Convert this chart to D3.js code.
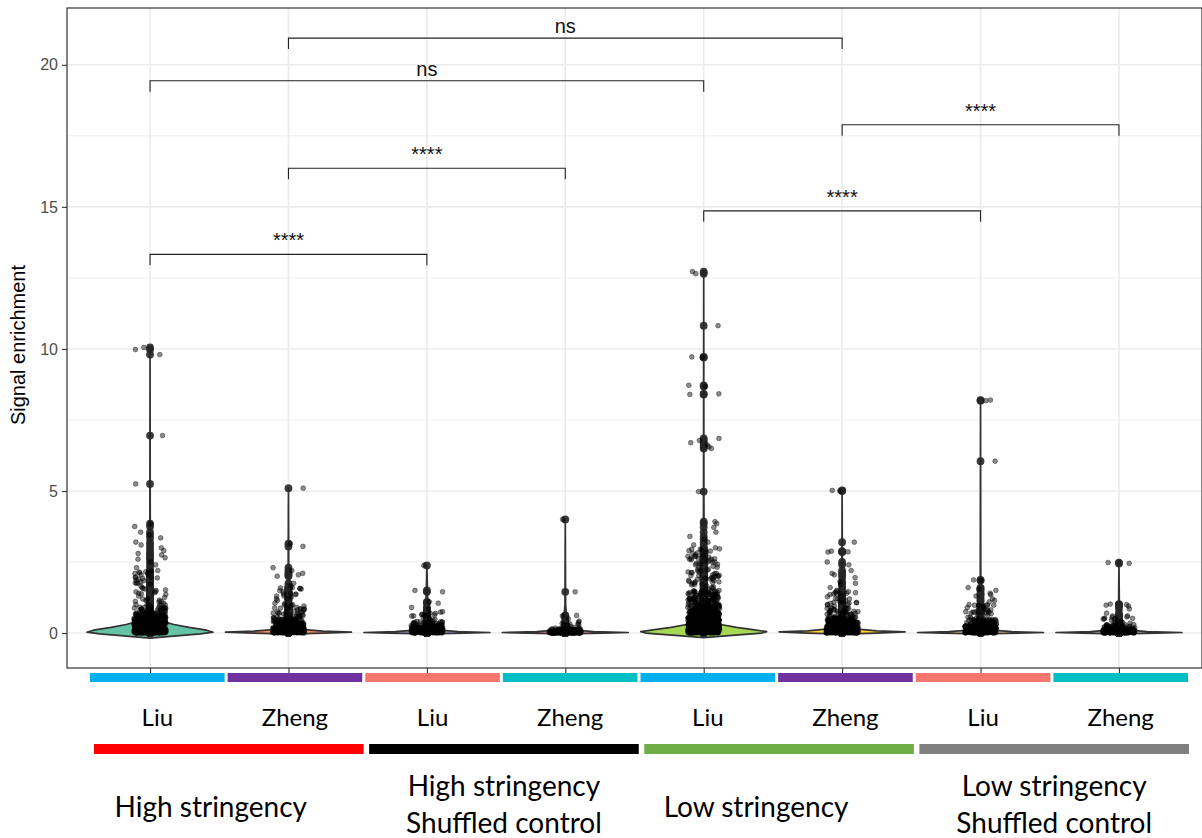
<!DOCTYPE html>
<html>
<head>
<meta charset="utf-8">
<script src="https://cdn.jsdelivr.net/npm/d3@7"></script>
<style>
  body { margin: 0; background: #fff; }
  svg { display: block; }
</style>
</head>
<body>
<svg id="chart" width="1202" height="838"></svg>
<script>
// ---- categories and labels ----
const categories = ["hsLiu", "hsZheng", "hscLiu", "hscZheng", "lsLiu", "lsZheng", "lscLiu", "lscZheng"];
const datasetLabels = ["Liu", "Zheng", "Liu", "Zheng", "Liu", "Zheng", "Liu", "Zheng"];
const conditions = ["hs", "hsc", "ls", "lsc"];
const conditionLabels = [
  ["High stringency"],
  ["High stringency", "Shuffled control"],
  ["Low stringency"],
  ["Low stringency", "Shuffled control"]
];
const yTicks = [0, 5, 10, 15, 20];
const yMinorTicks = [2.5, 7.5, 12.5, 17.5];

// ---- signal enrichment: individually visible values (upper tail) ----
const hsLiuTail = [10.05, 9.98, 9.8, 6.95, 5.25, 3.85, 3.75, 3.55, 3.45, 3.35, 3.2, 3.1, 3.0, 2.9, 2.8, 2.75,
  2.65, 2.6, 2.5, 2.4, 2.3, 2.2, 2.12, 2.1, 2.05, 1.95, 1.9, 1.8, 1.72, 1.65, 1.6, 1.55, 1.52, 1.5, 1.45,
  1.4, 1.36, 1.3, 1.25, 1.2, 1.15, 1.1, 1.05, 1.0];
const hsZhengTail = [5.1, 3.15, 3.05, 2.3, 2.2, 2.1, 2.05, 2.0, 1.75, 1.65, 1.6, 1.55, 1.45, 1.4, 1.3, 1.2,
  1.15, 1.05, 1.0, 0.95, 0.9];
const hscLiuTail = [2.38, 1.5, 1.45, 1.1, 1.05, 0.9, 0.85, 0.75, 0.7, 0.65, 0.6, 0.55, 0.5, 0.45];
const hscZhengTail = [4.0, 1.45, 0.62, 0.6, 0.5, 0.42, 0.38, 0.3];
const lsLiuTail = [12.72, 12.65, 10.82, 9.72, 9.7, 8.72, 8.68, 8.42, 8.4, 6.85, 6.78, 6.7, 6.62, 6.55, 6.5,
  4.98, 3.92, 3.85, 3.72, 3.55, 3.4, 3.3, 3.2, 3.1, 3.0, 2.95, 2.9, 2.85, 2.75, 2.7, 2.6, 2.55, 2.5, 2.45,
  2.4, 2.35, 2.3, 2.25, 2.2, 2.15, 2.1, 2.05, 2.0, 1.95, 1.9, 1.85, 1.8, 1.75, 1.7, 1.65, 1.6, 1.55, 1.5];
const lsZhengTail = [5.02, 5.0, 3.2, 2.88, 2.86, 2.85, 2.5, 2.4, 2.2, 2.1, 2.05, 1.95, 1.8, 1.75, 1.7, 1.6,
  1.5, 1.4, 1.3, 1.2, 1.15, 1.1, 1.0, 0.95, 0.9];
const lscLiuTail = [8.2, 8.18, 6.05, 1.87, 1.85, 1.6, 1.55, 1.5, 1.4, 1.35, 1.3, 1.2, 1.15, 1.1, 1.0, 0.98,
  0.9, 0.85, 0.8, 0.75, 0.7, 0.65];
const lscZhengTail = [2.48, 2.45, 1.02, 1.0, 0.98, 0.95, 0.85, 0.7, 0.6, 0.55, 0.5, 0.45, 0.4];

// ---- dense part near zero, as [binLow, binHigh, count] ----
const hsLiuBulk = [[1.0, 2.2, 24], [0.7, 1.0, 40], [0.4, 0.7, 90], [0.15, 0.4, 180], [0, 0.15, 320]];
const hsZhengBulk = [[0.9, 1.6, 14], [0.5, 0.9, 35], [0.2, 0.5, 90], [0, 0.2, 280]];
const hscLiuBulk = [[0.4, 0.8, 12], [0.2, 0.4, 45], [0, 0.2, 220]];
const hscZhengBulk = [[0.15, 0.4, 10], [0.05, 0.15, 50], [0, 0.05, 150]];
const lsLiuBulk = [[1.5, 3.0, 50], [1.0, 1.5, 80], [0.6, 1.0, 140], [0.3, 0.6, 220], [0, 0.3, 420]];
const lsZhengBulk = [[0.9, 1.5, 20], [0.5, 0.9, 50], [0.2, 0.5, 110], [0, 0.2, 280]];
const lscLiuBulk = [[0.5, 1.0, 20], [0.25, 0.5, 60], [0, 0.25, 260]];
const lscZhengBulk = [[0.3, 0.6, 12], [0.12, 0.3, 40], [0, 0.12, 200]];

// ---- violin profiles: [value, relative density] ----
const hsLiuProfile = [[-0.18, 0], [-0.1, 0.42], [-0.03, 0.8], [0.03, 1], [0.1, 0.9], [0.2, 0.62], [0.3, 0.38],
  [0.42, 0.18], [0.6, 0.08], [0.9, 0.035], [1.5, 0.015], [2.5, 0.007], [4, 0.003], [10.05, 0]];
const hsZhengProfile = [[-0.04, 0], [0, 0.55], [0.03, 1], [0.07, 0.55], [0.12, 0.25], [0.2, 0.1], [0.4, 0.04],
  [0.8, 0.015], [2, 0.005], [5.1, 0]];
const hscLiuProfile = [[-0.03, 0], [0, 0.6], [0.02, 1], [0.05, 0.5], [0.1, 0.2], [0.2, 0.06], [0.5, 0.02], [2.38, 0]];
const hscZhengProfile = [[-0.03, 0], [0, 0.6], [0.02, 1], [0.05, 0.45], [0.1, 0.15], [0.3, 0.03], [1, 0.005], [4.0, 0]];
const lsLiuProfile = [[-0.16, 0], [-0.08, 0.45], [0, 0.92], [0.05, 1], [0.12, 0.78], [0.2, 0.52], [0.3, 0.27],
  [0.45, 0.11], [0.7, 0.045], [1.2, 0.02], [2.5, 0.008], [5, 0.003], [12.72, 0]];
const lsZhengProfile = [[-0.04, 0], [0, 0.55], [0.04, 1], [0.08, 0.55], [0.14, 0.25], [0.25, 0.09], [0.5, 0.03],
  [1, 0.012], [2.5, 0.004], [5.02, 0]];
const lscLiuProfile = [[-0.03, 0], [0, 0.6], [0.02, 1], [0.05, 0.5], [0.1, 0.18], [0.25, 0.05], [0.6, 0.015],
  [2, 0.004], [8.2, 0]];
const lscZhengProfile = [[-0.03, 0], [0, 0.6], [0.02, 1], [0.05, 0.45], [0.1, 0.15], [0.3, 0.03], [1, 0.006], [2.48, 0]];

// ---- pairwise comparisons: [groupA, groupB, bracket height, label] ----
const comparisons = [
  ["hsLiu", "hscLiu", 13.33, "****"],
  ["hsZheng", "hscZheng", 16.36, "****"],
  ["hsLiu", "lsLiu", 19.44, "ns"],
  ["hsZheng", "lsZheng", 20.94, "ns"],
  ["lsLiu", "lscLiu", 14.86, "****"],
  ["lsZheng", "lscZheng", 17.89, "****"]
];

// ---- colours ----
const violinFills = ["#66C2A5", "#FC8D62", "#8DA0CB", "#E78AC3", "#A6D854", "#FFD92F", "#E5C494", "#B3B3B3"];
const datasetColors = ["#00B0F0", "#7030A0", "#F8766D", "#00BFC4", "#00B0F0", "#7030A0", "#F8766D", "#00BFC4"];
const conditionColors = ["#FF0000", "#000000", "#70AD47", "#808080"];

const tails = [hsLiuTail, hsZhengTail, hscLiuTail, hscZhengTail, lsLiuTail, lsZhengTail, lscLiuTail, lscZhengTail];
const bulks = [hsLiuBulk, hsZhengBulk, hscLiuBulk, hscZhengBulk, lsLiuBulk, lsZhengBulk, lscLiuBulk, lscZhengBulk];
const profiles = [hsLiuProfile, hsZhengProfile, hscLiuProfile, hscZhengProfile, lsLiuProfile, lsZhengProfile, lscLiuProfile, lscZhengProfile];

const groups = categories.map((key, i) => ({
  key, tail: tails[i], bulk: bulks[i], profile: profiles[i], fill: violinFills[i]
}));

// ---- layout ----
const panel = { left: 67, top: 8, right: 1202, bottom: 668 };
const svg = d3.select("#chart");
const sansFont = "'Liberation Sans', Arial, sans-serif";
const labelFont = "Lato, 'Open Sans', sans-serif";

const x = d3.scalePoint().domain(categories).range([panel.left, panel.right]).padding(0.6);
const y = d3.scaleLinear().domain([-1.23, 22.0]).range([panel.bottom, panel.top]);
const step = x.step();
const violinHalf = step * 0.455;
const jitterHalf = step * 0.115;

// grid
const grid = svg.append("g");
grid.selectAll("line.minor").data(yMinorTicks).join("line")
  .attr("x1", panel.left).attr("x2", panel.right)
  .attr("y1", d => y(d)).attr("y2", d => y(d))
  .attr("stroke", "#ebebeb").attr("stroke-width", 0.8);
grid.selectAll("line.majorY").data(yTicks).join("line")
  .attr("x1", panel.left).attr("x2", panel.right)
  .attr("y1", d => y(d)).attr("y2", d => y(d))
  .attr("stroke", "#ebebeb").attr("stroke-width", 1.6);
grid.selectAll("line.majorX").data(categories).join("line")
  .attr("x1", d => x(d)).attr("x2", d => x(d))
  .attr("y1", panel.top).attr("y2", panel.bottom)
  .attr("stroke", "#ebebeb").attr("stroke-width", 1.6);

// violins
const vg = svg.append("g");
groups.forEach(g => {
  const cx = x(g.key);
  const area = d3.area()
    .y(d => y(d[0]))
    .x0(d => cx - d[1] * violinHalf)
    .x1(d => cx + d[1] * violinHalf)
    .curve(d3.curveLinear);
  vg.append("path").datum(g.profile)
    .attr("d", area)
    .attr("fill", g.fill)
    .attr("stroke", "#333")
    .attr("stroke-width", 1.7)
    .attr("stroke-linejoin", "round");
});

// points: each observation is shown at the centre line and once more jittered
const rng = d3.randomLcg(0.2718);
const jit = d3.randomUniform.source(rng)(-1, 1);
const unit = d3.randomUniform.source(rng)(0, 1);

const centreLayer = svg.append("g");
const jitterLayer = svg.append("g");
groups.forEach(g => {
  const cx = x(g.key);
  const pts = [];
  g.tail.forEach(v => pts.push({ py: y(v) }));
  // points in a bin are spread over the bin's height
  g.bulk.forEach(([lo, hi, n]) => {
    for (let k = 0; k < n; k++) {
      const u = unit();
      pts.push({ py: y(lo) + (y(hi) - y(lo)) * u });
    }
  });
  centreLayer.selectAll(null).data(pts).join("circle")
    .attr("cx", cx).attr("cy", d => d.py).attr("r", 3.9)
    .attr("fill", "#262626").attr("fill-opacity", 0.9);
  jitterLayer.selectAll(null).data(pts).join("circle")
    .attr("cx", () => cx + jit() * jitterHalf).attr("cy", d => d.py).attr("r", 2.4)
    .attr("fill", "#000").attr("fill-opacity", 0.45)
    .attr("stroke", "#000").attr("stroke-opacity", 0.55).attr("stroke-width", 0.7);
});

// significance brackets
const tip = 11;
const br = svg.append("g");
comparisons.forEach(([a, b, h, label]) => {
  const xa = x(a), xb = x(b), yy = y(h);
  br.append("path")
    .attr("d", `M${xa},${yy + tip}V${yy}H${xb}V${yy + tip}`)
    .attr("fill", "none").attr("stroke", "#222").attr("stroke-width", 1.1);
  br.append("text")
    .attr("x", (xa + xb) / 2).attr("y", yy - (label === "ns" ? 5 : 7))
    .attr("text-anchor", "middle")
    .style("font-family", sansFont)
    .attr("font-size", 20).attr("fill", "#111")
    .text(label);
});

// panel border
svg.append("rect")
  .attr("x", panel.left).attr("y", panel.top)
  .attr("width", panel.right - panel.left).attr("height", panel.bottom - panel.top)
  .attr("fill", "none").attr("stroke", "#333").attr("stroke-width", 1.2);

// axes
const yAxis = svg.append("g").attr("transform", `translate(${panel.left},0)`)
  .call(d3.axisLeft(y).tickValues(yTicks).tickSize(5).tickPadding(4));
yAxis.select(".domain").remove();
yAxis.selectAll(".tick line").attr("stroke", "#333").attr("stroke-width", 1.1);
yAxis.selectAll(".tick text")
  .style("font-family", sansFont)
  .attr("font-size", 16).attr("fill", "#4d4d4d");

const xAxis = svg.append("g").attr("transform", `translate(0,${panel.bottom})`)
  .call(d3.axisBottom(x).tickSize(5).tickFormat(""));
xAxis.select(".domain").remove();
xAxis.selectAll(".tick line").attr("stroke", "#333").attr("stroke-width", 1.1);

svg.append("text")
  .attr("transform", `translate(25,${(panel.top + panel.bottom) / 2 + 7}) rotate(-90)`)
  .attr("text-anchor", "middle")
  .style("font-family", sansFont)
  .attr("font-size", 20).attr("fill", "#000")
  .text("Signal enrichment");

// dataset strip and labels
const dsBand = d3.scaleBand().domain(categories).range([90, 1188]).paddingInner(0.022);
svg.append("g").selectAll("rect").data(categories).join("rect")
  .attr("x", d => dsBand(d)).attr("y", 673)
  .attr("width", dsBand.bandwidth()).attr("height", 9)
  .attr("fill", (d, i) => datasetColors[i]);
svg.append("g").selectAll("text").data(categories).join("text")
  .attr("x", d => dsBand(d) + dsBand.bandwidth() / 2)
  .attr("y", 726)
  .attr("text-anchor", "middle")
  .style("font-family", labelFont)
  .attr("font-size", 24).attr("fill", "#000")
  .text((d, i) => datasetLabels[i]);

// condition strip and labels
const condBand = d3.scaleBand().domain(conditions).range([94, 1189]).paddingInner(0.02);
svg.append("g").selectAll("rect").data(conditions).join("rect")
  .attr("x", d => condBand(d)).attr("y", 744)
  .attr("width", condBand.bandwidth()).attr("height", 10)
  .attr("fill", (d, i) => conditionColors[i]);

const labelNudge = [-18, 0, -23, 0];
const condText = svg.append("g");
conditions.forEach((c, i) => {
  const lines = conditionLabels[i];
  const cx = condBand(c) + condBand.bandwidth() / 2 + labelNudge[i];
  const t = condText.append("text")
    .attr("text-anchor", "middle")
    .style("font-family", labelFont)
    .attr("font-size", 28).attr("fill", "#000");
  const baselines = lines.length === 1 ? [817] : [796, 833];
  lines.forEach((ln, j) => {
    t.append("tspan").attr("x", cx).attr("y", baselines[j]).text(ln);
  });
});
</script>
</body>
</html>
